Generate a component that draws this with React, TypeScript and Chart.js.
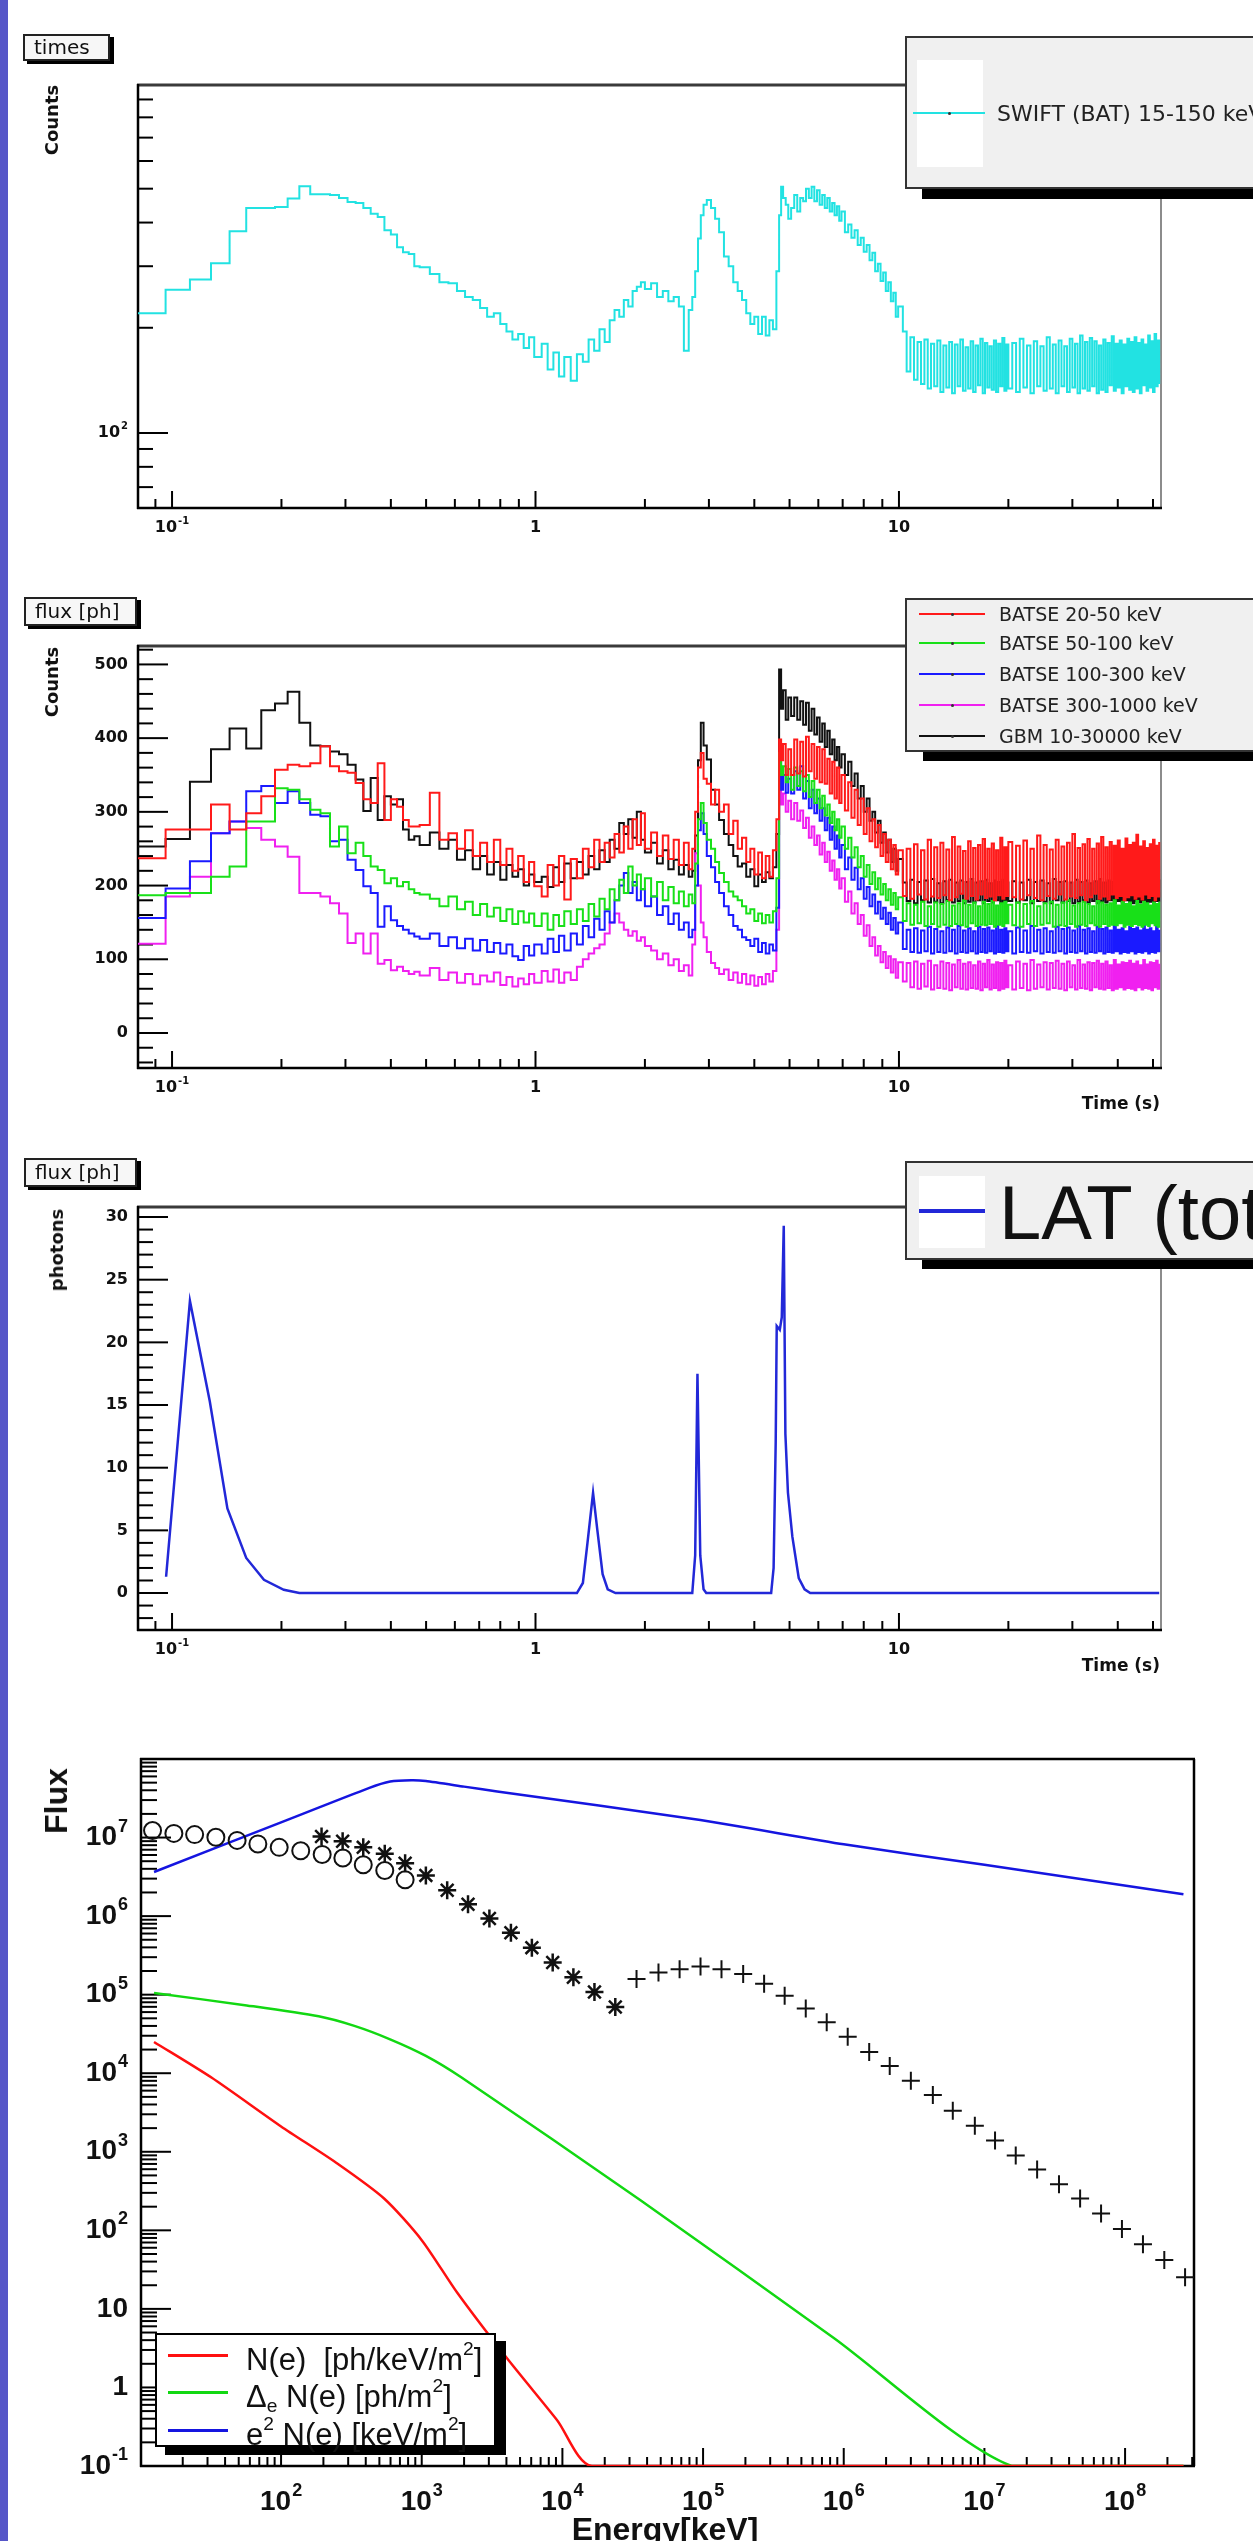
import React, { useEffect, useRef } from 'react';
import { Chart, registerables } from 'chart.js';

Chart.register(...registerables);

// ---------------- DATA ----------------
// shared time grid (s) for SWIFT / BATSE / GBM light curves (bin starts)
const TIME = [
  0.080, 0.096, 0.112, 0.128, 0.144, 0.160, 0.176, 0.192, 0.208, 0.224, 0.240, 0.256, 0.272, 0.288, 0.304, 0.320, 0.336, 0.352, 0.368, 0.384, 0.400, 0.416, 0.432, 0.448, 0.464, 0.480,
  0.512, 0.544, 0.576, 0.608, 0.640, 0.672, 0.704, 0.736, 0.768, 0.800, 0.832, 0.864, 0.896, 0.928, 0.960, 0.992,
  1.04, 1.08, 1.12, 1.16, 1.20, 1.25, 1.30, 1.35, 1.40, 1.45, 1.50, 1.55, 1.60, 1.65, 1.70, 1.75, 1.80, 1.85, 1.90, 1.95, 2.00,
  2.08, 2.16, 2.24, 2.32, 2.40, 2.48, 2.56, 2.64, 2.70, 2.75, 2.80, 2.85, 2.90, 2.96, 3.04, 3.12, 3.20, 3.30, 3.40, 3.50, 3.60, 3.70, 3.80, 3.90, 4.00, 4.10, 4.20, 4.30, 4.40, 4.50, 4.60, 4.68, 4.74, 4.80, 4.88, 4.96,
  5.05, 5.15, 5.25, 5.35, 5.45, 5.55, 5.65, 5.75, 5.85, 5.95, 6.05, 6.15, 6.25, 6.35, 6.45, 6.55, 6.65, 6.75, 6.85, 6.95,
  7.1, 7.25, 7.4, 7.55, 7.7, 7.85, 8.0, 8.15, 8.3, 8.45, 8.6, 8.75, 8.9, 9.05, 9.2, 9.35, 9.5, 9.65, 9.8, 9.95,
  10.25, 10.5, 10.75, 11.0, 11.25, 11.5, 11.75, 12.0, 12.25, 12.5, 12.75, 13.0, 13.25, 13.5, 13.75, 14.0, 14.25, 14.5, 14.75, 15.0,
  15.25, 15.5, 15.75, 16.0, 16.25, 16.5, 16.75, 17.0, 17.25, 17.5, 17.75, 18.0, 18.25, 18.5, 18.75, 19.0, 19.25, 19.5, 19.75, 20.0,
  20.5, 21, 21.5, 22, 22.5, 23, 23.5, 24, 24.5, 25, 25.5, 26, 26.5, 27, 27.5, 28, 28.5, 29, 29.5, 30,
  30.5, 31, 31.5, 32, 32.5, 33, 33.5, 34, 34.5, 35, 35.5, 36, 36.5, 37, 37.5, 38, 38.5, 39, 39.5, 40,
  40.5, 41, 41.5, 42, 42.5, 43, 43.5, 44, 44.5, 45, 45.5, 46, 46.5, 47, 47.5, 48, 48.5, 49, 49.5, 50,
  50.5, 51, 51.5, 52,
];

const SWIFT_BAT_15_150 = [
  220, 257, 275, 306, 378, 440, 440, 443, 469, 508, 482, 482, 480, 470, 458, 455, 440, 424, 415, 380, 370, 340, 329, 325, 300, 298,
  285, 270, 268, 255, 245, 240, 228, 215, 220, 205, 195, 185, 192, 175, 188, 165,
  180, 152, 170, 145, 165, 141, 168, 160, 185, 172, 198, 182, 210, 225, 215, 240, 230, 255, 262, 270, 258,
  268, 245, 255, 238, 245, 230, 172, 225, 245, 290, 360, 420, 450, 464, 440, 410, 375, 320, 300, 270, 255, 240, 220, 205, 215, 192, 215, 190, 210, 198, 290, 420, 506, 470, 450, 410,
  440, 480, 430, 470, 460, 500, 470, 506, 460, 495, 450, 480, 440, 470, 430, 455, 420, 445, 405, 430,
  375, 395, 362, 380, 345, 362, 330, 345, 312, 328, 290, 305, 272, 288, 255, 270, 238, 252, 215, 230,
  195, 150, 188, 142, 182, 138, 185, 134, 180, 136, 184, 131, 178, 135, 182, 130, 179, 136, 185, 132,
  176, 134, 183, 131, 178, 137, 186, 130, 181, 135, 177, 133, 184, 131, 180, 136, 187, 132, 179, 134,
  181, 131, 186, 135, 178, 130, 183, 136, 177, 132, 188, 134, 179, 130, 184, 136, 177, 131, 186, 135,
  180, 130, 190, 134, 182, 132, 187, 136, 183, 130, 178, 133, 185, 131, 181, 137, 189, 132, 180, 135,
  184, 130, 179, 136, 186, 133, 182, 131, 188, 134, 181, 130, 185, 137, 179, 132, 190, 135, 183, 131,
  192, 136, 184, 138,
];

const BATSE_20_50 = [
  237, 276, 276, 310, 276, 298, 321, 357, 364, 362, 366, 389, 362, 355, 353, 339, 317, 312, 366, 289, 317, 307, 289, 280, 280, 282,
  326, 262, 271, 250, 275, 240, 258, 232, 262, 228, 250, 220, 240, 205, 232, 199,
  185, 228, 200, 240, 181, 236, 210, 250, 225, 262, 232, 258, 238, 270, 245, 280, 250, 290, 255, 298, 250,
  272, 240, 268, 236, 262, 228, 258, 222, 250, 300, 360, 380, 345, 338, 310, 330, 300, 310, 270, 288, 250, 265, 232, 250, 215, 245, 210, 240, 212, 248, 290, 398, 370, 392, 350, 385,
  350, 398, 352, 395, 348, 402, 355, 392, 345, 388, 340, 385, 338, 372, 325, 368, 318, 360, 312, 350,
  302, 340, 292, 330, 282, 318, 270, 305, 260, 290, 252, 282, 240, 270, 232, 262, 222, 255, 215, 248,
  186, 250, 182, 256, 188, 248, 181, 262, 185, 252, 183, 258, 187, 249, 180, 266, 184, 253, 189, 247,
  182, 260, 186, 251, 181, 255, 188, 263, 183, 250, 185, 257, 180, 248, 187, 265, 182, 252, 186, 259,
  184, 254, 181, 261, 187, 250, 183, 268, 180, 255, 186, 249, 182, 262, 188, 253, 181, 258, 185, 270,
  183, 251, 187, 256, 180, 263, 184, 250, 189, 257, 182, 266, 185, 252, 181, 259, 188, 254, 183, 261,
  186, 250, 180, 264, 184, 255, 187, 258, 182, 269, 185, 253, 181, 260, 188, 251, 183, 256, 186, 262,
  180, 254, 185, 259,
];

const BATSE_50_100 = [
  187, 190, 190, 212, 226, 287, 287, 332, 330, 317, 303, 298, 253, 280, 244, 258, 240, 226, 221, 203, 210, 199, 205, 195, 190, 188,
  182, 172, 185, 168, 178, 160, 175, 158, 170, 152, 168, 148, 165, 150, 162, 145,
  162, 140, 160, 145, 165, 148, 168, 152, 175, 158, 182, 168, 195, 180, 208, 190, 226, 200, 215, 195, 210,
  185, 205, 180, 198, 176, 192, 172, 188, 176, 230, 290, 312, 285, 262, 250, 232, 217, 205, 192, 185, 180, 172, 162, 168, 152, 162, 149, 160, 150, 165, 210, 380, 350, 362, 340, 358,
  330, 360, 335, 355, 328, 350, 320, 342, 312, 330, 305, 322, 295, 310, 285, 300, 275, 290, 265, 280,
  250, 265, 238, 252, 225, 240, 212, 228, 202, 218, 195, 210, 188, 202, 180, 195, 174, 190, 168, 184,
  152, 176, 147, 174, 149, 178, 145, 172, 148, 177, 144, 175, 147, 179, 145, 173, 148, 176, 146, 180,
  144, 174, 149, 177, 145, 172, 147, 178, 146, 175, 148, 179, 144, 173, 147, 176, 145, 178, 149, 174,
  146, 177, 144, 175, 148, 179, 145, 172, 147, 176, 149, 178, 144, 174, 146, 177, 145, 180, 148, 173,
  144, 176, 147, 178, 145, 175, 149, 172, 146, 179, 144, 177, 148, 174, 145, 176, 147, 180, 146, 173,
  149, 178, 144, 175, 147, 177, 145, 172, 148, 179, 146, 174, 144, 178, 147, 176, 145, 173, 149, 177,
  146, 175, 144, 178,
];

const BATSE_100_300 = [
  156, 196, 233, 271, 287, 328, 335, 312, 328, 312, 296, 294, 260, 262, 235, 221, 199, 190, 144, 172, 153, 145, 140, 135, 131, 128,
  135, 118, 130, 115, 128, 112, 126, 110, 122, 108, 120, 104, 99, 118, 105, 120,
  108, 128, 110, 132, 112, 135, 120, 145, 130, 155, 140, 165, 150, 180, 200, 217, 190, 205, 180, 195, 172,
  185, 160, 172, 148, 162, 140, 150, 130, 140, 200, 275, 298, 270, 240, 225, 205, 190, 172, 160, 145, 140, 130, 126, 118, 128, 110, 122, 108, 120, 112, 170, 367, 330, 350, 326, 345,
  325, 355, 330, 362, 318, 342, 305, 330, 298, 318, 288, 305, 275, 292, 262, 280, 250, 268, 238, 255,
  222, 238, 208, 224, 195, 210, 182, 198, 172, 188, 162, 178, 155, 170, 148, 163, 140, 156, 135, 150,
  114, 140, 110, 142, 109, 139, 111, 144, 108, 141, 110, 138, 109, 143, 111, 140, 108, 145, 110, 139,
  109, 142, 111, 138, 108, 144, 110, 141, 109, 143, 111, 139, 108, 145, 110, 140, 109, 142, 111, 138,
  108, 143, 110, 139, 109, 145, 111, 140, 108, 142, 110, 138, 109, 144, 111, 141, 108, 143, 110, 139,
  109, 145, 111, 140, 108, 142, 110, 138, 109, 144, 111, 141, 108, 143, 110, 139, 109, 145, 111, 140,
  108, 142, 110, 138, 109, 144, 111, 141, 108, 143, 110, 139, 109, 145, 111, 140, 108, 142, 110, 138,
  109, 144, 111, 140,
];

const BATSE_300_1000 = [
  121, 185, 212, 271, 287, 278, 262, 253, 239, 190, 190, 185, 176, 162, 122, 135, 108, 135, 94, 99, 85, 90, 84, 80, 83, 78,
  88, 72, 82, 68, 80, 66, 78, 70, 82, 65, 76, 63, 74, 66, 80, 68,
  84, 70, 86, 68, 82, 72, 90, 100, 108, 115, 120, 135, 150, 162, 150, 140, 132, 138, 125, 130, 118,
  112, 100, 108, 92, 100, 84, 92, 78, 120, 244, 200, 150, 130, 110, 95, 88, 80, 86, 72, 82, 68, 80, 66, 78, 64, 76, 66, 80, 70, 84, 140, 348, 310, 325, 300, 315,
  290, 312, 288, 302, 278, 292, 265, 280, 255, 268, 242, 258, 232, 246, 220, 234, 208, 222, 196, 210,
  178, 192, 162, 176, 148, 160, 132, 146, 118, 130, 105, 118, 96, 110, 88, 104, 82, 100, 75, 96,
  70, 95, 62, 97, 60, 94, 63, 98, 59, 92, 61, 97, 60, 95, 58, 93, 62, 99, 60, 94,
  59, 96, 61, 92, 60, 97, 58, 94, 62, 99, 59, 93, 61, 96, 58, 95, 60, 98, 62, 92,
  59, 97, 61, 94, 58, 99, 60, 93, 62, 96, 59, 95, 61, 98, 60, 94, 58, 97, 62, 92,
  59, 99, 61, 93, 60, 96, 58, 95, 62, 98, 60, 94, 59, 97, 61, 92, 58, 99, 60, 93,
  62, 96, 59, 95, 61, 98, 60, 94, 58, 97, 62, 92, 59, 99, 61, 93, 60, 96, 58, 95,
  62, 98, 60, 94,
];

const GBM_10_30000 = [
  253, 263, 341, 385, 413, 386, 438, 447, 463, 421, 390, 389, 382, 378, 364, 344, 301, 346, 289, 321, 310, 317, 276, 262, 267, 255,
  272, 250, 262, 235, 248, 222, 240, 215, 232, 208, 228, 212, 222, 200, 215, 205,
  212, 198, 225, 205, 230, 210, 232, 215, 240, 222, 248, 232, 262, 250, 285, 270, 290, 265, 300, 262, 245,
  258, 230, 248, 222, 235, 215, 228, 212, 220, 268, 370, 421, 390, 371, 330, 310, 289, 270, 255, 240, 226, 230, 212, 222, 199, 215, 205, 218, 210, 225, 270, 493, 440, 465, 425, 455,
  430, 455, 425, 450, 418, 448, 410, 440, 405, 428, 395, 420, 388, 410, 378, 398, 370, 388, 360, 378,
  350, 368, 335, 352, 318, 335, 300, 318, 288, 300, 272, 288, 258, 272, 245, 262, 232, 250, 220, 236,
  204, 179, 208, 176, 205, 180, 207, 177, 209, 178, 203, 176, 206, 180, 208, 177, 204, 179, 207, 176,
  205, 178, 209, 177, 204, 180, 206, 176, 208, 179, 203, 177, 207, 180, 205, 176, 208, 178, 204, 179,
  206, 177, 204, 180, 208, 176, 205, 179, 207, 178, 203, 176, 209, 180, 205, 177, 206, 179, 204, 176,
  208, 178, 205, 180, 207, 177, 203, 179, 206, 176, 209, 178, 204, 177, 207, 180, 205, 176, 208, 179,
  203, 177, 206, 180, 204, 178, 209, 176, 205, 179, 207, 177, 204, 180, 206, 176, 208, 178, 205, 177,
  203, 179, 207, 178,
];

// LAT (tot) photons
const LAT_TIME = [
  0.0963, 0.112, 0.127, 0.142, 0.160, 0.179, 0.203, 0.224,
  1.30, 1.35, 1.39, 1.44, 1.48, 1.53, 1.58, 1.66,
  2.70, 2.75, 2.79, 2.84, 2.90, 2.95,
  4.45, 4.52, 4.58, 4.61, 4.70, 4.76, 4.82, 4.87, 4.95, 5.09, 5.30, 5.50, 5.70,
  52,
];
const LAT_TOT = [
  1.3, 23.3, 15.3, 6.75, 2.8, 1.05, 0.26, 0,
  0, 0.8, 4, 8.0, 5, 1.5, 0.3, 0,
  0, 3, 17.5, 3, 0.3, 0,
  0, 2, 12, 21.3, 21.0, 22, 29.3, 12.7, 8, 4.5, 1.2, 0.3, 0,
  0,
];

// Energy spectrum panel
const E_NE_X = [12.5, 32, 100, 245, 540, 1000, 1790, 4000, 9200, 16200, 2.6e8];
const E_NE_Y = [2.5e4, 8.8e3, 2.1e3, 730, 254, 75, 16, 2.4, 0.38, 0.1, 0.1];
const E_DNE_X = [12.5, 57, 185, 332, 596, 1070, 1920, 35900, 8.45e5, 1.56e7, 2.6e8];
const E_DNE_Y = [1.05e5, 7.3e4, 5.3e4, 4.0e4, 2.7e4, 1.66e4, 8.8e3, 242, 4.3, 0.1, 0.1];
const E_E2NE_X = [12.5, 100, 420, 597, 846, 1070, 2000, 3440, 95700, 1e6, 1e7, 2.6e8];
const E_E2NE_Y = [3.64e6, 1.56e7, 4.26e7, 5.16e7, 5.37e7, 5.25e7, 4.45e7, 3.86e7, 1.67e7, 8.2e6, 4.5e6, 1.9e6];
const E_CIRCLE_X = [12.2, 17.3, 24.3, 34.4, 48.7, 68.4, 97, 138, 196, 275, 384, 546, 762];
const E_CIRCLE_Y = [1.23e7, 1.13e7, 1.09e7, 1.01e7, 9.2e6, 8.3e6, 7.5e6, 6.8e6, 6.1e6, 5.5e6, 4.5e6, 3.8e6, 2.9e6];
const E_STAR_X = [194, 274, 384, 546, 762, 1070, 1517, 2133, 3027, 4305, 6067, 8531, 11970, 16900, 23770];
const E_STAR_Y = [1.03e7, 8.98e6, 7.5e6, 6.2e6, 4.7e6, 3.3e6, 2.13e6, 1.42e6, 9.35e5, 6.15e5, 3.97e5, 2.56e5, 1.67e5, 1.08e5, 6.98e4];
const E_PLUS_X = [33650, 48200, 68100, 95900, 135200, 192800, 271600, 380200, 537000, 756800, 1.067e6, 1.517e6, 2.123e6, 3.0e6, 4.3e6, 5.96e6, 8.55e6, 1.19e7, 1.67e7, 2.37e7, 3.39e7, 4.79e7, 6.75e7, 9.5e7, 1.34e8, 1.9e8, 2.67e8];
const E_PLUS_Y = [1.58e5, 1.92e5, 2.11e5, 2.28e5, 2.11e5, 1.83e5, 1.38e5, 9.7e4, 6.65e4, 4.46e4, 2.92e4, 1.86e4, 1.24e4, 8.0e3, 5.27e3, 3.33e3, 2.15e3, 1.39e3, 898, 597, 385, 254, 164, 104, 66.5, 42, 25.2];

// tick labels
const TIME_TICK_LABELS = [
  { v: 0.1, text: '10', sup: '-1' },
  { v: 1, text: '1' },
  { v: 10, text: '10' },
];
const SWIFT_Y_LABELS = [{ v: 100, text: '10', sup: '2' }];
const BATSE_Y_VALUES = [0, 100, 200, 300, 400, 500];
const LAT_Y_VALUES = [0, 5, 10, 15, 20, 25, 30];
const FLUX_Y_LABELS = [
  { v: 0.1, text: '10', sup: '-1' },
  { v: 1, text: '1' },
  { v: 10, text: '10' },
  { v: 1e2, text: '10', sup: '2' },
  { v: 1e3, text: '10', sup: '3' },
  { v: 1e4, text: '10', sup: '4' },
  { v: 1e5, text: '10', sup: '5' },
  { v: 1e6, text: '10', sup: '6' },
  { v: 1e7, text: '10', sup: '7' },
];
const ENERGY_X_LABELS = [
  { v: 1e2, text: '10', sup: '2' },
  { v: 1e3, text: '10', sup: '3' },
  { v: 1e4, text: '10', sup: '4' },
  { v: 1e5, text: '10', sup: '5' },
  { v: 1e6, text: '10', sup: '6' },
  { v: 1e7, text: '10', sup: '7' },
  { v: 1e8, text: '10', sup: '8' },
];

// ---------------- HELPERS ----------------
const FONT_DV = '"DejaVu Sans", Verdana, sans-serif';
const FONT_LS = '"Liberation Sans", Arial, Helvetica, sans-serif';

const pts = (xs: number[], ys: number[]) => xs.map((x, i) => ({ x, y: ys[i] }));

function logTicks(lo: number, hi: number) {
  const out: any[] = [];
  for (let e = Math.floor(Math.log10(lo)) - 1; e <= Math.ceil(Math.log10(hi)); e++) {
    for (let m = 1; m <= 9; m++) {
      const v = m * Math.pow(10, e);
      if (v >= lo * 0.999 && v <= hi * 1.001) out.push({ v, major: m === 1 });
    }
  }
  return out;
}
function linTicks(lo: number, hi: number, step: number, majorStep: number) {
  const out: any[] = [];
  const n0 = Math.ceil(lo / step), n1 = Math.floor(hi / step);
  for (let n = n0; n <= n1; n++) {
    const v = n * step;
    out.push({ v, major: Math.abs(Math.round(v / majorStep) * majorStep - v) < 1e-9 });
  }
  return out;
}

function rootAxes(o: any) {
  return {
    id: 'rootAxes',
    beforeDatasetsDraw(chart: any) {
      const { ctx, chartArea: a } = chart;
      const xs = chart.scales.x, ys = chart.scales.y;
      ctx.save();
      ctx.lineCap = 'butt';
      const seg = (x1: number, y1: number, x2: number, y2: number, c: string, w: number) => {
        ctx.beginPath(); ctx.strokeStyle = c; ctx.lineWidth = w; ctx.moveTo(x1, y1); ctx.lineTo(x2, y2); ctx.stroke();
      };
      for (const t of o.yTicks) {
        const y = ys.getPixelForValue(t.v);
        if (y < a.top - 1 || y > a.bottom + 1) continue;
        seg(a.left, y, a.left + (t.major ? o.yMajor : o.yMinor), y, '#000', o.tickWidth);
      }
      for (const t of o.xTicks) {
        const x = xs.getPixelForValue(t.v);
        if (x < a.left - 1 || x > a.right + 1) continue;
        seg(x, a.bottom, x, a.bottom - (t.major ? o.xMajor : o.xMinor), '#000', o.tickWidth);
      }
      const f = o.frame;
      seg(a.left - 1, a.top, a.right + 1, a.top, f.topColor, f.topWidth);
      seg(a.right, a.top, a.right, a.bottom, f.rightColor, f.rightWidth);
      seg(a.left, a.top - 1, a.left, a.bottom + 1, f.leftColor, f.leftWidth);
      seg(a.left - 1, a.bottom, a.right + 1, a.bottom, f.bottomColor, f.bottomWidth);

      ctx.fillStyle = o.labelColor;
      ctx.textBaseline = 'middle';
      ctx.textAlign = 'left';
      const draw = (l: any, x: number, y: number, align: string) => {
        ctx.font = o.font;
        const bw = ctx.measureText(l.text).width;
        let sw = 0;
        if (l.sup) { ctx.font = o.supFont; sw = ctx.measureText(l.sup).width + o.supGap; }
        const total = bw + sw;
        const x0 = align === 'right' ? x - total : x - total / 2;
        ctx.font = o.font;
        ctx.fillText(l.text, x0, y);
        if (l.sup) { ctx.font = o.supFont; ctx.fillText(l.sup, x0 + bw + o.supGap, y - o.supRaise); }
      };
      for (const l of o.yLabels) draw(l, a.left - o.yGap, ys.getPixelForValue(l.v), 'right');
      for (const l of o.xLabels) draw(l, xs.getPixelForValue(l.v), a.bottom + o.xGap, 'center');
      ctx.restore();
    },
  };
}

const TIME_MIN = 0.0806, TIME_MAX = 52.6;
const TIME_FRAME = { topColor: '#3a3a3a', topWidth: 3, rightColor: '#666', rightWidth: 1.5, leftColor: '#000', leftWidth: 2.5, bottomColor: '#000', bottomWidth: 2.5 };

function timeChart(datasets: any[], yScale: any, yTicks: any[], yLabels: any[], padTop: number, xHeight: number) {
  return {
    type: 'line',
    data: { datasets },
    options: {
      animation: false, responsive: false, maintainAspectRatio: false, devicePixelRatio: 1, events: [],
      layout: { padding: { left: 0, right: 92, top: padTop, bottom: 0 } },
      plugins: { legend: { display: false }, tooltip: { enabled: false } },
      scales: {
        x: { type: 'logarithmic', min: TIME_MIN, max: TIME_MAX, ticks: { display: false }, grid: { display: false }, border: { display: false }, afterFit: (s: any) => { s.height = xHeight; } },
        y: { ...yScale, ticks: { display: false }, grid: { display: false }, border: { display: false }, afterFit: (s: any) => { s.width = 138; } },
      },
    },
    plugins: [rootAxes({
      yTicks, xTicks: logTicks(TIME_MIN, TIME_MAX), yLabels, xLabels: TIME_TICK_LABELS,
      yMajor: 30, yMinor: 15, xMajor: 17, xMinor: 9, tickWidth: 2,
      frame: TIME_FRAME,
      labelColor: '#111', font: `bold 16px ${FONT_DV}`, supFont: `bold 10px ${FONT_DV}`, supGap: 1, supRaise: 7,
      yGap: 10, xGap: 20,
    })],
  };
}

const histo = (ys: number[], color: string) => ({
  data: pts(TIME, ys), borderColor: color, borderWidth: 2, stepped: true, pointRadius: 0, fill: false, tension: 0,
});

function ChartCanvas({ top, height, build }: any) {
  const ref = useRef<HTMLCanvasElement>(null);
  useEffect(() => {
    const chart = new Chart(ref.current as any, build());
    return () => chart.destroy();
  }, []);
  return <canvas ref={ref} width={1253} height={height} style={{ position: 'absolute', left: 0, top, width: 1253, height }} />;
}

const abs = (left: number, top: number, width: number, height: number, extra: any = {}) => ({
  position: 'absolute', left, top, width, height, boxSizing: 'border-box', ...extra,
} as any);

function TitleBox({ left, top, width, height, text }: any) {
  return (
    <div style={abs(left, top, width, height, { background: '#f7f7f7', border: '2px solid #222', boxShadow: '4px 3px 0 #000', font: `20px ${FONT_DV}`, color: '#111', lineHeight: `${height - 4}px`, paddingLeft: 9, whiteSpace: 'nowrap' })}>{text}</div>
  );
}

function Rotated({ cx, cy, text, font }: any) {
  return (
    <div style={{ position: 'absolute', left: cx, top: cy, transform: 'translate(-50%,-50%) rotate(-90deg)', font, color: '#111', whiteSpace: 'nowrap', lineHeight: 1 }}>{text}</div>
  );
}

function LineSample({ left, top, width, color, thick = 2 }: any) {
  return (
    <>
      <div style={abs(left, top - thick / 2, width, thick, { background: color })} />
      <div style={abs(left + width / 2 - 1.5, top - 1.5, 3, 3, { background: '#333', borderRadius: 2 })} />
    </>
  );
}

const sup = (t: string) => <sup style={{ fontSize: '0.62em', verticalAlign: '0.75em', lineHeight: 0 }}>{t}</sup>;
const sub = (t: string) => <sub style={{ fontSize: '0.62em', verticalAlign: '-0.3em', lineHeight: 0 }}>{t}</sub>;

// ---------------- APP ----------------
export default function App() {
  const p1 = () => timeChart(
    [histo(SWIFT_BAT_15_150, '#22e2e2')],
    { type: 'logarithmic', min: 61, max: 990 },
    logTicks(61, 990), SWIFT_Y_LABELS, 25, 52,
  );
  const p2 = () => timeChart(
    [
      histo(BATSE_20_50, '#ff1a1a'),
      histo(BATSE_50_100, '#18e018'),
      histo(BATSE_100_300, '#1a1aff'),
      histo(BATSE_300_1000, '#f020f0'),
      histo(GBM_10_30000, '#111111'),
    ],
    { type: 'linear', min: -47.5, max: 525 },
    linTicks(-47.5, 525, 20, 100), BATSE_Y_VALUES.map((v) => ({ v, text: String(v) })), 76, 52,
  );
  const p3 = () => timeChart(
    [{ data: pts(LAT_TIME, LAT_TOT), borderColor: '#2228d8', borderWidth: 2.5, pointRadius: 0, fill: false, tension: 0 }],
    { type: 'linear', min: -2.95, max: 30.8 },
    linTicks(-2.95, 30.8, 1, 5), LAT_Y_VALUES.map((v) => ({ v, text: String(v) })), 77, 60,
  );
  const p4 = () => ({
    type: 'line',
    data: {
      datasets: [
        { data: pts(E_PLUS_X, E_PLUS_Y), showLine: false, pointStyle: 'cross', pointRadius: 9, borderColor: '#111', borderWidth: 2, backgroundColor: 'transparent' },
        { data: pts(E_STAR_X, E_STAR_Y), showLine: false, pointStyle: 'star', pointRadius: 9, borderColor: '#111', borderWidth: 2.5, backgroundColor: 'transparent' },
        { data: pts(E_CIRCLE_X, E_CIRCLE_Y), showLine: false, pointStyle: 'circle', pointRadius: 8.5, borderColor: '#111', borderWidth: 2, backgroundColor: 'transparent' },
        { data: pts(E_NE_X, E_NE_Y), borderColor: '#ff1010', borderWidth: 2.5, pointRadius: 0, fill: false, tension: 0.25 },
        { data: pts(E_DNE_X, E_DNE_Y), borderColor: '#12d812', borderWidth: 2.5, pointRadius: 0, fill: false, tension: 0.25 },
        { data: pts(E_E2NE_X, E_E2NE_Y), borderColor: '#1515e0', borderWidth: 2.5, pointRadius: 0, fill: false, tension: 0.2 },
      ],
    },
    options: {
      animation: false, responsive: false, maintainAspectRatio: false, devicePixelRatio: 1, events: [],
      layout: { padding: { left: 0, right: 59, top: 59, bottom: 0 } },
      plugins: { legend: { display: false }, tooltip: { enabled: false } },
      scales: {
        x: { type: 'logarithmic', min: 10.1, max: 3.09e8, ticks: { display: false }, grid: { display: false }, border: { display: false }, afterFit: (s: any) => { s.height = 75; } },
        y: { type: 'logarithmic', min: 0.1, max: 1e8, ticks: { display: false }, grid: { display: false }, border: { display: false }, afterFit: (s: any) => { s.width = 141; } },
      },
    },
    plugins: [rootAxes({
      yTicks: logTicks(0.1, 1e8), xTicks: logTicks(10.1, 3.09e8), yLabels: FLUX_Y_LABELS, xLabels: ENERGY_X_LABELS,
      yMajor: 30, yMinor: 16, xMajor: 18, xMinor: 9, tickWidth: 2,
      frame: { topColor: '#000', topWidth: 2.5, rightColor: '#000', rightWidth: 2.5, leftColor: '#000', leftWidth: 2.5, bottomColor: '#000', bottomWidth: 2.5 },
      labelColor: '#111', font: `bold 28px ${FONT_LS}`, supFont: `bold 18px ${FONT_LS}`, supGap: 1, supRaise: 11,
      yGap: 13, xGap: 36,
    })],
  });

  return (
    <div style={{ position: 'absolute', left: 0, top: 0, width: 1253, height: 2541, overflow: 'hidden', background: '#fff' }}>
      <ChartCanvas top={60} height={500} build={p1} />
      <ChartCanvas top={570} height={550} build={p2} />
      <ChartCanvas top={1130} height={560} build={p3} />
      <ChartCanvas top={1700} height={841} build={p4} />

      {/* left frame stripe */}
      <div style={abs(0, 0, 8, 2541, { background: '#5656c8' })} />

      {/* Panel 1 */}
      <TitleBox left={23} top={34} width={87} height={27} text="times" />
      <Rotated cx={52} cy={120} text="Counts" font={`bold 18px ${FONT_DV}`} />
      <div style={abs(905, 36, 420, 153, { background: '#f0f0f0', border: '2px solid #333', boxShadow: '17px 10px 0 #000' })}>
        <div style={abs(10, 22, 66, 107, { background: '#fff' })} />
        <LineSample left={6} top={75} width={72} color="#22e2e2" />
        <div style={{ position: 'absolute', left: 90, top: 76, transform: 'translateY(-50%)', font: `22px ${FONT_DV}`, color: '#222', whiteSpace: 'nowrap', lineHeight: 1 }}>SWIFT (BAT) 15-150 keV</div>
      </div>

      {/* Panel 2 */}
      <TitleBox left={24} top={597} width={113} height={29} text="flux [ph]" />
      <Rotated cx={52} cy={682} text="Counts" font={`bold 18px ${FONT_DV}`} />
      <div style={abs(905, 598, 420, 154, { background: '#f0f0f0', border: '2px solid #333', boxShadow: '18px 9px 0 #000' })}>
        {[
          { y: 14, c: '#ff1a1a', t: 'BATSE 20-50 keV' },
          { y: 43, c: '#18e018', t: 'BATSE 50-100 keV' },
          { y: 74, c: '#1a1aff', t: 'BATSE 100-300 keV' },
          { y: 105, c: '#f020f0', t: 'BATSE 300-1000 keV' },
          { y: 136, c: '#111', t: 'GBM 10-30000 keV' },
        ].map((r) => (
          <React.Fragment key={r.t}>
            <LineSample left={12} top={r.y} width={66} color={r.c} thick={2.5} />
            <div style={{ position: 'absolute', left: 92, top: r.y, transform: 'translateY(-50%)', font: `19px ${FONT_DV}`, color: '#222', whiteSpace: 'nowrap', lineHeight: 1 }}>{r.t}</div>
          </React.Fragment>
        ))}
      </div>
      <div style={{ position: 'absolute', right: 1253 - 1160, top: 1103, transform: 'translateY(-50%)', font: `bold 17px ${FONT_DV}`, color: '#111', whiteSpace: 'nowrap', lineHeight: 1 }}>Time (s)</div>

      {/* Panel 3 */}
      <TitleBox left={24} top={1158} width={113} height={29} text="flux [ph]" />
      <Rotated cx={57} cy={1250} text="photons" font={`bold 18px ${FONT_DV}`} />
      <div style={abs(905, 1161, 420, 99, { background: '#f0f0f0', border: '2px solid #333', boxShadow: '17px 9px 0 #000' })}>
        <div style={abs(12, 13, 66, 72, { background: '#fff' })} />
        <div style={abs(12, 46, 66, 3.5, { background: '#2228d8' })} />
        <div style={{ position: 'absolute', left: 92, top: 50, transform: 'translateY(-50%)', font: `76px ${FONT_LS}`, color: '#111', whiteSpace: 'nowrap', lineHeight: 1 }}>LAT (tot)</div>
      </div>
      <div style={{ position: 'absolute', right: 1253 - 1160, top: 1665, transform: 'translateY(-50%)', font: `bold 17px ${FONT_DV}`, color: '#111', whiteSpace: 'nowrap', lineHeight: 1 }}>Time (s)</div>

      {/* Panel 4 */}
      <Rotated cx={56} cy={1801} text="Flux" font={`bold 32px ${FONT_LS}`} />
      <div style={{ position: 'absolute', left: 665, top: 2513, transform: 'translateX(-50%)', font: `bold 32px ${FONT_LS}`, color: '#111', whiteSpace: 'nowrap', lineHeight: '32px' }}>Energy[keV]</div>
      <div style={abs(155, 2333, 341, 114, { background: '#fff', border: '2px solid #000', boxShadow: '10px 8px 0 #000' })}>
        {[
          { y: 20, c: '#ff1010', t: <>N(e)&nbsp; [ph/keV/m{sup('2')}]</> },
          { y: 57, c: '#12d812', t: <>Δ{sub('e')} N(e) [ph/m{sup('2')}]</> },
          { y: 95, c: '#1515e0', t: <>e{sup('2')} N(e) [keV/m{sup('2')}]</> },
        ].map((r, i) => (
          <React.Fragment key={i}>
            <div style={abs(11, r.y - 1.5, 60, 3, { background: r.c })} />
            <div style={{ position: 'absolute', left: 89, top: r.y + 4, transform: 'translateY(-50%)', font: `31px ${FONT_LS}`, color: '#111', whiteSpace: 'nowrap', lineHeight: 1 }}>{r.t}</div>
          </React.Fragment>
        ))}
      </div>
    </div>
  );
}
